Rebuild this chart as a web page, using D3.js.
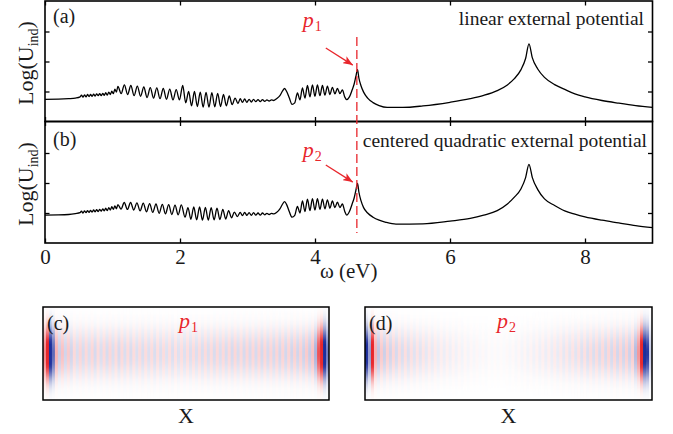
<!DOCTYPE html>
<html>
<head>
<meta charset="utf-8">
<script src="https://cdn.jsdelivr.net/npm/d3@7"></script>
<style>
  body { margin: 0; background: #fff; }
  svg { display: block; font-family: "Liberation Serif", "Times New Roman", serif; }
</style>
</head>
<body>
<svg id="chart" width="673" height="434"></svg>
<script>
// (a) linear external potential: [omega (eV), Log(U_ind)]
const spectrumA = [
  [0, 0.74], [0.2, 0.745], [0.35, 0.76], [0.45, 0.78], [0.52, 0.82],
  [0.540, 0.88], [0.563, 0.81], [0.585, 0.89], [0.608, 0.82], [0.630, 0.90], [0.653, 0.83],
  [0.675, 0.90], [0.698, 0.84], [0.720, 0.91], [0.743, 0.85], [0.765, 0.92], [0.788, 0.86],
  [0.810, 0.93], [0.833, 0.86], [0.855, 0.94], [0.878, 0.87], [0.900, 0.96], [0.923, 0.88],
  [0.945, 0.98], [0.968, 0.90], [0.990, 1.01], [1.013, 0.93], [1.035, 1.08], [1.058, 0.98],
  [1.080, 1.17], [1.128, 0.93], [1.176, 1.22], [1.224, 0.90], [1.272, 1.20], [1.320, 0.86],
  [1.368, 1.18], [1.416, 0.84], [1.464, 1.15], [1.512, 0.80], [1.560, 1.13], [1.608, 0.78],
  [1.656, 1.12], [1.704, 0.76], [1.752, 1.10], [1.800, 0.74], [1.848, 1.08], [1.896, 0.72],
  [1.944, 1.06], [1.992, 0.72], [2.040, 1.20], [2.085, 0.62],
  [2.128, 1.00], [2.171, 0.52], [2.214, 1.00], [2.257, 0.50], [2.300, 0.98], [2.343, 0.48],
  [2.386, 0.97], [2.429, 0.48], [2.472, 0.96], [2.515, 0.49], [2.558, 0.94], [2.601, 0.50],
  [2.644, 0.90], [2.687, 0.52], [2.730, 0.85], [2.773, 0.56], [2.816, 0.78], [2.859, 0.60],
  [2.892, 0.76], [2.925, 0.64], [2.958, 0.75], [2.991, 0.64], [3.024, 0.74], [3.057, 0.65],
  [3.090, 0.74], [3.123, 0.66], [3.156, 0.73], [3.189, 0.66], [3.222, 0.73], [3.255, 0.67],
  [3.288, 0.72], [3.321, 0.68], [3.354, 0.72], [3.387, 0.70],
  [3.43, 0.76], [3.48, 0.86], [3.52, 1.02], [3.55, 1.10], [3.58, 1.00], [3.62, 0.78],
  [3.66, 0.57], [3.70, 0.62],
  [3.740, 0.95], [3.777, 0.72], [3.814, 1.12], [3.851, 0.78], [3.888, 1.20], [3.925, 0.82],
  [3.962, 1.22], [3.999, 0.84], [4.036, 1.22], [4.073, 0.86], [4.110, 1.20], [4.147, 0.88],
  [4.184, 1.18], [4.221, 0.90], [4.258, 1.14], [4.295, 0.92], [4.332, 1.10], [4.369, 0.93],
  [4.406, 1.05], [4.440, 0.82], [4.47, 0.73], [4.51, 0.82], [4.55, 1.05], [4.58, 1.25],
  [4.605, 1.50], [4.63, 1.73], [4.65, 1.45], [4.68, 1.20], [4.72, 0.98], [4.78, 0.78],
  [4.86, 0.63], [4.95, 0.53], [5.07, 0.47], [5.30, 0.47], [5.60, 0.52], [6.00, 0.64],
  [6.30, 0.76], [6.50, 0.87], [6.70, 1.03], [6.85, 1.22], [6.95, 1.42], [7.05, 1.72],
  [7.12, 2.10], [7.17, 2.59], [7.22, 2.12], [7.30, 1.75], [7.40, 1.47], [7.55, 1.23],
  [7.70, 1.07], [7.85, 0.92], [8.00, 0.82], [8.25, 0.70], [8.50, 0.61], [8.75, 0.53], [9.00, 0.47]
];

// (b) centered quadratic external potential
const spectrumB = [
  [0, 0.93], [0.2, 0.935], [0.35, 0.95], [0.45, 0.98], [0.52, 1.01],
  [0.540, 1.06], [0.563, 1.00], [0.585, 1.07], [0.608, 1.01], [0.630, 1.08], [0.653, 1.02],
  [0.675, 1.09], [0.698, 1.03], [0.720, 1.10], [0.743, 1.04], [0.765, 1.11], [0.788, 1.05],
  [0.810, 1.12], [0.833, 1.06], [0.855, 1.14], [0.878, 1.07], [0.900, 1.16], [0.923, 1.08],
  [0.945, 1.18], [0.968, 1.10], [0.990, 1.21], [1.013, 1.12], [1.035, 1.24], [1.058, 1.14],
  [1.080, 1.28], [1.127, 1.13], [1.174, 1.35], [1.221, 1.12], [1.268, 1.35], [1.315, 1.10],
  [1.362, 1.34], [1.409, 1.07], [1.456, 1.33], [1.503, 1.04], [1.550, 1.31], [1.597, 1.02],
  [1.644, 1.30], [1.691, 0.99], [1.738, 1.29], [1.785, 0.97], [1.832, 1.28], [1.879, 0.95],
  [1.926, 1.26], [1.973, 0.94], [2.020, 1.27], [2.075, 0.86],
  [2.118, 1.18], [2.161, 0.79], [2.204, 1.20], [2.247, 0.77], [2.290, 1.20], [2.333, 0.76],
  [2.376, 1.19], [2.419, 0.76], [2.462, 1.18], [2.505, 0.77], [2.548, 1.16], [2.591, 0.78],
  [2.634, 1.12], [2.677, 0.80], [2.720, 1.08], [2.763, 0.84], [2.806, 1.03], [2.849, 0.88],
  [2.892, 1.02], [2.925, 0.91], [2.958, 1.02], [2.991, 0.92], [3.024, 1.01], [3.057, 0.92],
  [3.090, 1.01], [3.123, 0.93], [3.156, 1.00], [3.189, 0.93], [3.222, 1.00], [3.255, 0.94],
  [3.288, 0.99], [3.321, 0.95], [3.354, 0.99], [3.387, 0.97],
  [3.43, 1.02], [3.48, 1.14], [3.52, 1.30], [3.55, 1.38], [3.58, 1.28], [3.62, 1.04],
  [3.66, 0.86], [3.70, 0.92],
  [3.740, 1.22], [3.777, 1.00], [3.814, 1.40], [3.851, 1.05], [3.888, 1.46], [3.925, 1.08],
  [3.962, 1.48], [3.999, 1.10], [4.036, 1.48], [4.073, 1.12], [4.110, 1.46], [4.147, 1.14],
  [4.184, 1.44], [4.221, 1.16], [4.258, 1.40], [4.295, 1.18], [4.332, 1.36], [4.369, 1.18],
  [4.406, 1.30], [4.440, 1.06], [4.47, 0.93], [4.51, 1.05], [4.55, 1.30], [4.58, 1.50],
  [4.605, 1.75], [4.63, 1.99], [4.65, 1.70], [4.68, 1.42], [4.72, 1.18], [4.78, 1.00],
  [4.86, 0.86], [4.95, 0.76], [5.05, 0.69], [5.20, 0.63], [5.60, 0.64], [6.00, 0.73],
  [6.30, 0.82], [6.50, 0.93], [6.70, 1.08], [6.85, 1.30], [6.95, 1.52], [7.05, 1.80],
  [7.12, 2.18], [7.17, 2.62], [7.22, 2.18], [7.30, 1.78], [7.40, 1.47], [7.55, 1.25],
  [7.70, 1.07], [7.85, 0.96], [8.00, 0.87], [8.25, 0.76], [8.50, 0.67], [8.75, 0.58], [9.00, 0.51]
];

const xTicks = [0, 2, 4, 6, 8];
const yTicks = [1, 2, 3];

// red annotations (data units)
const peakOmega = 4.62;
const dashTopA = 2.82;     // dashed line starts in panel (a)
const dashBottomB = 0.33;  // and ends in panel (b)
const arrowA = [[4.16, 2.45], [4.56, 1.88]];
const arrowB = [[4.16, 2.60], [4.56, 2.03]];
const labelPosA = [3.82, 3.15];
const labelPosB = [3.82, 2.87];

// induced charge maps: signed stripe amplitude per column, envelope per row
const stripesC = [
  0.7, 1.5, -1.5, -0.9, 0.45, -0.3, 0.35, -0.25, 0.3, -0.25,
  0.22, -0.2, 0.24, -0.21, 0.22, -0.2, 0.23, -0.22, 0.21, -0.2,
  0.22, -0.21, 0.23, -0.2, 0.21, -0.22, 0.22, -0.2, 0.21, -0.21,
  0.2, -0.19, 0.21, -0.2, 0.2, -0.19, 0.2, -0.2, 0.19, -0.19,
  0.2, -0.18, 0.19, -0.19, 0.18, -0.18, 0.19, -0.18, 0.19, -0.19,
  0.2, -0.19, 0.2, -0.2, 0.21, -0.2, 0.21, -0.21, 0.22, -0.2,
  0.22, -0.21, 0.22, -0.22, 0.23, -0.21, 0.22, -0.22, 0.23, -0.22,
  0.23, -0.22, 0.24, -0.23, 0.23, -0.22, 0.24, -0.23, 0.24, -0.24,
  0.25, -0.24, 0.25, -0.25, 0.26, -0.25, 0.27, -0.27, 0.3, -0.3,
  0.35, -0.45, 1.0, 1.5, -1.5, -0.8
];
const stripesD = [
  -1.4, -0.6, 1.5, 0.45, -0.35, 0.3, -0.28, 0.26, -0.25, 0.23,
  -0.22, 0.21, -0.2, 0.19, -0.19, 0.18, -0.17, 0.16, -0.16, 0.15,
  -0.14, 0.13, -0.13, 0.12, -0.11, 0.1, -0.1, 0.09, -0.09, 0.08,
  -0.08, 0.07, -0.07, 0.06, -0.06, 0.05, -0.05, 0.05, -0.04, 0.04,
  -0.04, 0.03, -0.03, 0.03, -0.03, 0.03, -0.03, 0.04, -0.04, 0.04,
  -0.05, 0.05, -0.06, 0.06, -0.07, 0.07, -0.08, 0.08, -0.09, 0.09,
  -0.1, 0.1, -0.11, 0.12, -0.12, 0.13, -0.14, 0.14, -0.15, 0.16,
  -0.16, 0.17, -0.18, 0.18, -0.19, 0.2, -0.2, 0.21, -0.21, 0.22,
  -0.22, 0.23, -0.23, 0.24, -0.24, 0.25, -0.25, 0.26, -0.27, 0.28,
  -0.4, 0.6, 1.5, -1.4, -1.2, -0.3
];
const rowWeights = [
  0.02, 0.04, 0.08, 0.14, 0.23, 0.35, 0.5, 0.64, 0.78, 0.89, 0.97, 1,
  1, 0.97, 0.89, 0.78, 0.64, 0.5, 0.35, 0.23, 0.14, 0.08, 0.04, 0.02
];

const red = "#e8262c";
const ink = "#1a1a1a";
const svg = d3.select("#chart");

const x = d3.scaleLinear().domain([0, 9]).range([45, 652.5]);
const yA = d3.scaleLinear().domain([0, 4]).range([121.5, 1.5]);
const yB = d3.scaleLinear().domain([0, 4]).range([243, 123]);

const defs = svg.append("defs");
defs.append("marker")
    .attr("id", "head")
    .attr("markerUnits", "userSpaceOnUse")
    .attr("markerWidth", 10).attr("markerHeight", 8)
    .attr("refX", 10).attr("refY", 4)
    .attr("orient", "auto")
    .append("path")
    .attr("d", "M0,0 L10,4 L0,8 L2.5,4 z")
    .attr("fill", red);

const panels = [
  { y: yA, data: spectrumA, top: 1, bottom: 121.5, tag: "(a)", tagY: 23,
    title: "linear external potential", titleX: 644, titleY: 25, labelY: 63 },
  { y: yB, data: spectrumB, top: 121.5, bottom: 243, tag: "(b)", tagY: 146,
    title: "centered quadratic external potential", titleX: 647, titleY: 147, labelY: 184 }
];

function styleAxis(g) {
  g.select(".domain").remove();
  g.selectAll("line").attr("stroke", "#000").attr("stroke-width", 1.3);
  g.selectAll("text").attr("font-family", "Liberation Serif, serif")
      .attr("font-size", 21).attr("fill", ink);
}

panels.forEach((p, i) => {
  const id = "clip" + i;
  defs.append("clipPath").attr("id", id).append("rect")
      .attr("x", x(0)).attr("y", p.top)
      .attr("width", x(9) - x(0)).attr("height", p.bottom - p.top);

  const line = d3.line()
      .x(d => x(d[0]))
      .y(d => p.y(d[1]))
      .curve(d3.curveMonotoneX);

  svg.append("path")
      .datum(p.data)
      .attr("clip-path", `url(#${id})`)
      .attr("fill", "none")
      .attr("stroke", "#000")
      .attr("stroke-width", 1.3)
      .attr("stroke-linejoin", "round")
      .attr("d", line);

  const tick = 4.5;
  svg.append("g").attr("transform", `translate(0,${p.top})`)
      .call(d3.axisTop(x).tickValues(xTicks).tickSize(-tick).tickFormat(""))
      .call(styleAxis);
  svg.append("g").attr("transform", `translate(0,${p.bottom})`)
      .call(d3.axisBottom(x).tickValues(xTicks).tickSize(-tick).tickPadding(6)
          .tickFormat(i === 1 ? d3.format("d") : ""))
      .call(styleAxis);
  svg.append("g").attr("transform", `translate(${x(0)},0)`)
      .call(d3.axisLeft(p.y).tickValues(yTicks).tickSize(-tick).tickFormat(""))
      .call(styleAxis);
  svg.append("g").attr("transform", `translate(${x(9)},0)`)
      .call(d3.axisRight(p.y).tickValues(yTicks).tickSize(-tick).tickFormat(""))
      .call(styleAxis);

  svg.append("rect")
      .attr("x", x(0)).attr("y", p.top)
      .attr("width", x(9) - x(0)).attr("height", p.bottom - p.top)
      .attr("fill", "none").attr("stroke", "#000").attr("stroke-width", 1.6);

  svg.append("text").attr("x", 53).attr("y", p.tagY)
      .attr("font-size", 20).attr("fill", ink).text(p.tag);
  svg.append("text").attr("x", p.titleX).attr("y", p.titleY)
      .attr("text-anchor", "end").attr("font-size", 19.5).attr("fill", ink).text(p.title);

  const yl = svg.append("text")
      .attr("transform", `translate(33,${p.labelY}) rotate(-90)`)
      .attr("text-anchor", "middle").attr("font-size", 22).attr("fill", ink);
  yl.append("tspan").text("Log(U");
  yl.append("tspan").attr("font-size", 14).attr("dy", 5).text("ind");
  yl.append("tspan").attr("dy", -5).text(")");
});

svg.append("text").attr("x", x(4.5)).attr("y", 278)
    .attr("text-anchor", "middle").attr("font-size", 21).attr("fill", ink)
    .text("ω (eV)");

// red dashed marker line at p1/p2
svg.append("line")
    .attr("x1", x(peakOmega)).attr("x2", x(peakOmega))
    .attr("y1", yA(dashTopA)).attr("y2", yB(dashBottomB))
    .attr("stroke", red).attr("stroke-width", 1.3)
    .attr("stroke-dasharray", "9,4");

[[arrowA, yA, labelPosA, "1"], [arrowB, yB, labelPosB, "2"]].forEach(([arr, y, lp, n]) => {
  svg.append("line")
      .attr("x1", x(arr[0][0])).attr("y1", y(arr[0][1]))
      .attr("x2", x(arr[1][0])).attr("y2", y(arr[1][1]))
      .attr("stroke", red).attr("stroke-width", 1.3)
      .attr("marker-end", "url(#head)");
  const t = svg.append("text").attr("x", x(lp[0])).attr("y", y(lp[1]))
      .attr("fill", red).attr("font-size", 22);
  t.append("tspan").attr("font-style", "italic").text("p");
  t.append("tspan").attr("font-size", 14).attr("dy", 4).attr("dx", 1).text(n);
});

// heat maps (c) and (d)
const color = d3.scaleLinear().domain([-1.25, 0, 1.25])
    .range(["#1f2f9c", "#ffffff", red]).clamp(true);

defs.append("filter").attr("id", "soft")
    .attr("x", "-5%").attr("y", "-10%").attr("width", "110%").attr("height", "120%")
    .append("feGaussianBlur").attr("stdDeviation", "0.6 1.4");

const maps = [
  { cols: stripesC, x0: 43, x1: 329, tag: "(c)", n: "1", labelX: 179 },
  { cols: stripesD, x0: 365, x1: 652, tag: "(d)", n: "2", labelX: 497 }
];
const mapTop = 307, mapBottom = 400;

maps.forEach((m, k) => {
  const cx = d3.scaleBand().domain(d3.range(m.cols.length)).range([m.x0, m.x1]);
  const cy = d3.scaleBand().domain(d3.range(rowWeights.length)).range([mapTop, mapBottom]);
  const cells = [];
  m.cols.forEach((a, i) => rowWeights.forEach((w, j) => cells.push({ i, j, v: a * w })));

  const id = "mapclip" + k;
  defs.append("clipPath").attr("id", id).append("rect")
      .attr("x", m.x0).attr("y", mapTop)
      .attr("width", m.x1 - m.x0).attr("height", mapBottom - mapTop);

  svg.append("rect").attr("x", m.x0).attr("y", mapTop)
      .attr("width", m.x1 - m.x0).attr("height", mapBottom - mapTop).attr("fill", "#fff");

  svg.append("g").attr("clip-path", `url(#${id})`)
    .append("g").attr("filter", "url(#soft)")
    .selectAll("rect")
    .data(cells)
    .join("rect")
      .attr("x", d => cx(d.i)).attr("y", d => cy(d.j))
      .attr("width", cx.bandwidth() + 0.5).attr("height", cy.bandwidth() + 0.5)
      .attr("fill", d => color(d.v));

  svg.append("rect").attr("x", m.x0).attr("y", mapTop)
      .attr("width", m.x1 - m.x0).attr("height", mapBottom - mapTop)
      .attr("fill", "none").attr("stroke", "#000").attr("stroke-width", 1.5);

  svg.append("text").attr("x", m.x0 + 4).attr("y", 330)
      .attr("font-size", 20).attr("fill", ink).text(m.tag);
  const t = svg.append("text").attr("x", m.labelX).attr("y", 328)
      .attr("fill", red).attr("font-size", 22);
  t.append("tspan").attr("font-style", "italic").text("p");
  t.append("tspan").attr("font-size", 14).attr("dy", 4).attr("dx", 1).text(m.n);

  svg.append("text").attr("x", (m.x0 + m.x1) / 2).attr("y", 423)
      .attr("text-anchor", "middle").attr("font-size", 22).attr("fill", ink).text("X");
});
</script>
</body>
</html>
